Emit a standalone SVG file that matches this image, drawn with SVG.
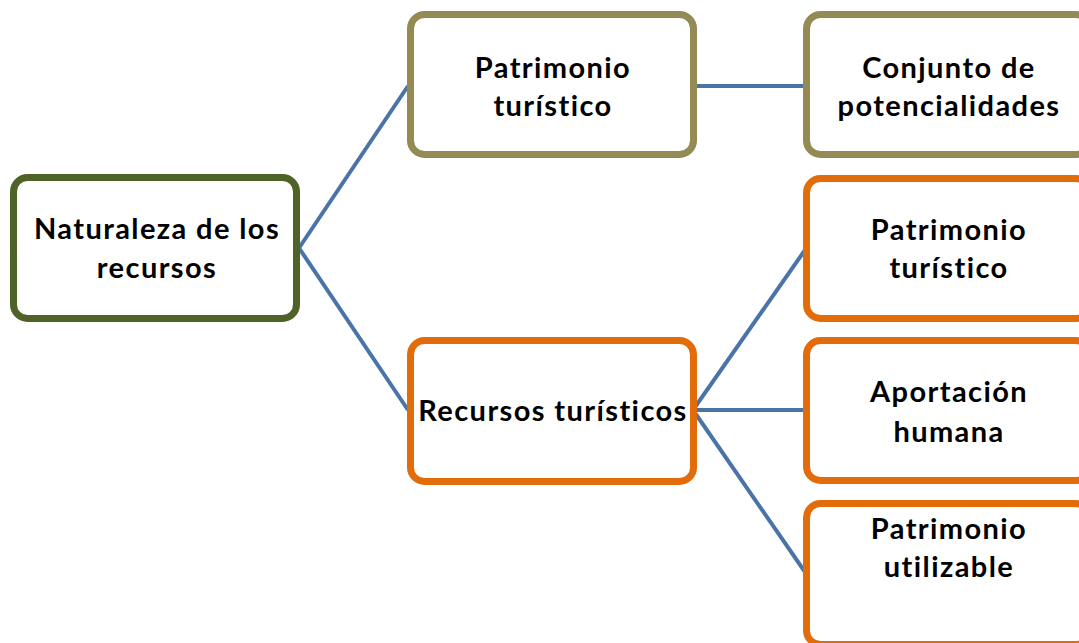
<svg xmlns="http://www.w3.org/2000/svg" width="1079" height="643" viewBox="0 0 1079 643">
<style>
.box{fill:#fff;stroke-width:7}
.g{stroke:#4F6228}
.k{stroke:#948A54}
.o{stroke:#E36C0A}
.t{font-family:Lato,"Liberation Sans",sans-serif;font-weight:bold;font-size:29px;letter-spacing:1.4px;fill:#000;text-anchor:middle}
.c line{stroke:#4A74A8;stroke-width:4}
</style>
<rect width="1079" height="643" fill="#fff"/>
<g class="c" id="connectors">
<line x1="299" y1="248" x2="408" y2="86"/>
<line x1="299" y1="248" x2="408" y2="410"/>
<line x1="695" y1="86" x2="805" y2="86"/>
<line x1="693" y1="410" x2="805" y2="250"/>
<line x1="693" y1="410" x2="805" y2="410"/>
<line x1="693" y1="410" x2="805" y2="572"/>
</g>
<g id="n1"><rect class="box g" x="13.5" y="177.5" width="283" height="141" rx="14"/>
<text class="t" x="157" y="239">Naturaleza de los</text><text class="t" x="157" y="278">recursos</text></g>
<g id="n2"><rect class="box k" x="410.5" y="14.5" width="283" height="140" rx="14"/>
<text class="t" x="553" y="78">Patrimonio</text><text class="t" x="553" y="116">turístico</text></g>
<g id="n3"><rect class="box k" x="806.5" y="14.5" width="283" height="140" rx="14"/>
<text class="t" x="949" y="78">Conjunto de</text><text class="t" x="949" y="116">potencialidades</text></g>
<g id="n4"><rect class="box o" x="410.5" y="340.5" width="283" height="141" rx="14"/>
<text class="t" x="553" y="421">Recursos turísticos</text></g>
<g id="n5"><rect class="box o" x="806.5" y="178.5" width="283" height="140" rx="14"/>
<text class="t" x="949" y="240">Patrimonio</text><text class="t" x="949" y="278">turístico</text></g>
<g id="n6"><rect class="box o" x="806.5" y="340.5" width="283" height="140" rx="14"/>
<text class="t" x="949" y="402">Aportación</text><text class="t" x="949" y="442">humana</text></g>
<g id="n7"><rect class="box o" x="806.5" y="503.5" width="283" height="141" rx="14"/>
<text class="t" x="949" y="539">Patrimonio</text><text class="t" x="949" y="577">utilizable</text></g>
</svg>
